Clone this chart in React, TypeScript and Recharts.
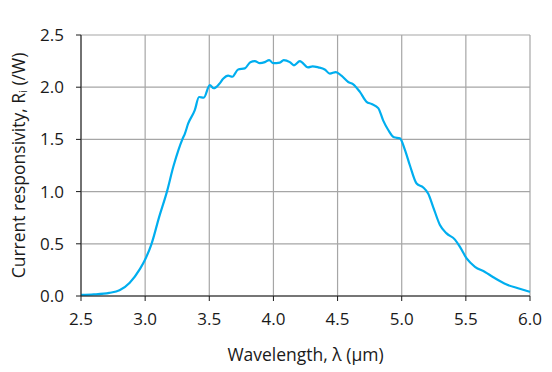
import React from 'react';
import { LineChart, Line, XAxis, YAxis, CartesianGrid, Label } from 'recharts';

const wavelength = [
  2.5, 2.6, 2.72, 2.8, 2.88, 2.96, 3.0, 3.05, 3.11, 3.17, 3.22, 3.26, 3.29, 3.31, 3.335,
  3.387, 3.42, 3.457, 3.504, 3.535, 3.577, 3.608, 3.647, 3.68, 3.725, 3.777, 3.82, 3.855,
  3.894, 3.933, 3.967, 3.998, 4.05, 4.08, 4.128, 4.16, 4.206, 4.27, 4.305, 4.35, 4.4,
  4.44, 4.487, 4.53, 4.583, 4.62, 4.674, 4.726, 4.765, 4.817, 4.856, 4.895, 4.94, 4.986,
  5.025, 5.064, 5.116, 5.168, 5.207, 5.246, 5.298, 5.35, 5.415, 5.454, 5.506, 5.571,
  5.649, 5.714, 5.818, 5.92, 6.0,
];

const responsivity = [
  0.01, 0.015, 0.03, 0.055, 0.128, 0.26, 0.35, 0.5, 0.76, 1.0, 1.24, 1.4, 1.5, 1.556, 1.65,
  1.78, 1.906, 1.9, 2.02, 1.99, 2.03, 2.08, 2.11, 2.1, 2.17, 2.18, 2.24, 2.25,
  2.23, 2.24, 2.26, 2.23, 2.235, 2.26, 2.24, 2.21, 2.25, 2.19, 2.2, 2.19, 2.17,
  2.13, 2.145, 2.11, 2.05, 2.03, 1.955, 1.86, 1.84, 1.8, 1.68, 1.59, 1.52, 1.51,
  1.4, 1.25, 1.077, 1.04, 0.98, 0.85, 0.68, 0.6, 0.54, 0.47, 0.36, 0.28,
  0.23, 0.18, 0.11, 0.07, 0.04,
];

const xTicks = [2.5, 3.0, 3.5, 4.0, 4.5, 5.0, 5.5, 6.0];
const yTicks = [0, 0.5, 1.0, 1.5, 2.0, 2.5];

const data = wavelength.map((w, i) => ({ w, r: responsivity[i] }));

const font = "'Open Sans', 'Noto Sans', sans-serif";
const ink = '#1a1a1a';

function YLabel(props: any) {
  const vb = props.viewBox || {};
  const cx = 18;
  const cy = vb.y + vb.height / 2;
  return (
    <text
      x={cx}
      y={cy}
      transform={`rotate(-90 ${cx} ${cy})`}
      textAnchor="middle"
      dominantBaseline="central"
      fontFamily={font}
      fontSize={17.5}
      fill={ink}
    >
      Current responsivity, R
      <tspan fontSize={11} dy={4}>i</tspan>
      <tspan dy={-4}> (/W)</tspan>
    </text>
  );
}

export default function App() {
  return (
    <div style={{ position: 'absolute', left: 0, top: 0, background: '#fff' }}>
      <LineChart
        width={552}
        height={372}
        data={data}
        margin={{ top: 35, right: 22, bottom: 26, left: 21 }}
      >
        <CartesianGrid stroke="#a6a6a6" strokeWidth={1.2} />
        <XAxis
          dataKey="w"
          type="number"
          domain={[2.5, 6]}
          ticks={xTicks}
          tickFormatter={(v: number) => v.toFixed(1)}
          height={50}
          tickSize={5}
          tickMargin={12}
          stroke={ink}
          tick={{ fill: ink, fontSize: 17, fontFamily: font }}
        >
          <Label
            value="Wavelength, λ (µm)"
            position="insideBottom"
            offset={-15}
            style={{ fill: ink, fontSize: 17.5, fontFamily: font }}
          />
        </XAxis>
        <YAxis
          type="number"
          domain={[0, 2.5]}
          ticks={yTicks}
          tickFormatter={(v: number) => v.toFixed(1)}
          width={60}
          tickSize={5}
          tickMargin={12}
          stroke={ink}
          tick={{ fill: ink, fontSize: 17, fontFamily: font }}
        >
          <Label content={<YLabel />} />
        </YAxis>
        <Line
          type="monotone"
          dataKey="r"
          stroke="#00aeef"
          strokeWidth={2.2}
          dot={false}
          isAnimationActive={false}
        />
      </LineChart>
    </div>
  );
}
